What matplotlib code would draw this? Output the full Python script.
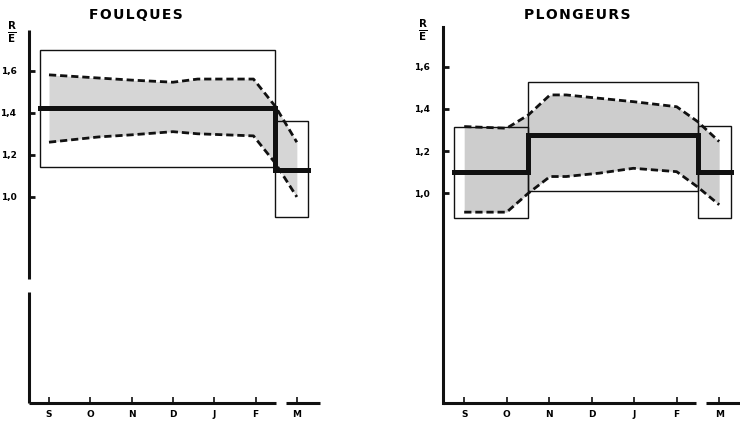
import numpy as np
import matplotlib
matplotlib.use("Agg")
import matplotlib.pyplot as plt
from matplotlib.patches import Rectangle

# 月份刻度
months = ["S", "O", "N", "D", "J", "F", "M"]
month_pos = [1, 2, 3, 4, 5, 6, 7]
yticks = [1.0, 1.2, 1.4, 1.6]
ytick_labels = ["1,0", "1,2", "1,4", "1,6"]

# FOULQUES
fq_x = [1.0, 2.2, 3.0, 4.0, 4.6, 5.95, 6.48, 7.0]
fq_upper = [1.58, 1.565, 1.555, 1.545, 1.56, 1.56, 1.43, 1.26]
fq_lower = [1.26, 1.285, 1.295, 1.31, 1.30, 1.29, 1.16, 1.0]
fq_mean_x = [0.77, 6.48, 6.48, 7.28]
fq_mean = [1.424, 1.424, 1.128, 1.128]
fq_box_x0 = [0.77, 6.48]
fq_box_x1 = [6.48, 7.28]
fq_box_y0 = [1.144, 0.906]
fq_box_y1 = [1.70, 1.362]

# PLONGEURS
pl_x = [1.0, 2.0, 2.51, 3.02, 3.4, 4.18, 4.98, 6.0, 6.49, 7.0]
pl_upper = [1.316, 1.308, 1.371, 1.466, 1.466, 1.45, 1.434, 1.41, 1.34, 1.245]
pl_lower = [0.91, 0.91, 1.0, 1.079, 1.079, 1.095, 1.118, 1.102, 1.03, 0.945]
pl_mean_x = [0.76, 2.51, 2.51, 6.49, 6.49, 7.28]
pl_mean = [1.10, 1.10, 1.276, 1.276, 1.10, 1.10]
pl_box_x0 = [0.76, 2.51, 6.49]
pl_box_x1 = [2.51, 6.49, 7.28]
pl_box_y0 = [0.88, 1.008, 0.88]
pl_box_y1 = [1.316, 1.529, 1.319]

plt.rcParams['font.family'] = ['DejaVu Sans']
INK = "#111111"
W, H = 740, 421


# 画一个面板
def draw_panel(ax, x, upper, lower, mean_x, mean, bx0, bx1, by0, by1,
               xlim, ylim, shade, break_x, ybreak=None):
    ax.set_xlim(*xlim)
    ax.set_ylim(*ylim)
    ax.fill_between(x, lower, upper, color=shade, lw=0, zorder=1)
    for i in range(len(bx0)):
        ax.add_patch(Rectangle((bx0[i], by0[i]), bx1[i] - bx0[i], by1[i] - by0[i],
                               fill=False, ec=INK, lw=1.0, zorder=2))
    ax.plot(x, upper, color=INK, lw=2.0, ls=(0, (2.6, 1.4)), zorder=3)
    ax.plot(x, lower, color=INK, lw=2.0, ls=(0, (2.6, 1.4)), zorder=3)
    ax.plot(mean_x, mean, color=INK, lw=3.6, solid_joinstyle="miter", zorder=4)

    # 坐标轴
    for s in ["top", "right", "bottom"]:
        ax.spines[s].set_visible(False)
    ax.spines["left"].set_linewidth(2.2)
    ax.spines["left"].set_color(INK)
    if ybreak is not None:
        # 纵轴中断
        ax.spines["left"].set_visible(False)
        ax.plot([xlim[0], xlim[0]], [ylim[0], ybreak - 0.03], color=INK, lw=2.2,
                clip_on=False, solid_capstyle="butt")
        ax.plot([xlim[0], xlim[0]], [ybreak + 0.03, ylim[1]], color=INK, lw=2.2,
                clip_on=False, solid_capstyle="butt")
    # 横轴中断（F 与 M 之间）
    ax.plot([xlim[0], break_x - 0.12], [ylim[0], ylim[0]], color=INK, lw=2.2,
            clip_on=False, solid_capstyle="butt")
    ax.plot([break_x + 0.12, xlim[1]], [ylim[0], ylim[0]], color=INK, lw=2.2,
            clip_on=False, solid_capstyle="butt")
    ax.set_xticks(month_pos)
    ax.set_xticklabels(months, fontsize=6.5, fontweight="bold")
    ax.set_yticks(yticks)
    ax.set_yticklabels(ytick_labels, fontsize=6.5, fontweight="bold")
    ax.tick_params(axis="x", direction="in", length=4, width=1.2, pad=5, color=INK)
    ax.tick_params(axis="y", direction="in", length=4, width=2.0, pad=9, color=INK)


# 标题和 R/E 标签（像素位置）
def add_labels(fig, title, tx, ty, rx, ry):
    fig.text(tx / W, 1 - ty / H, "\u200a".join(title), fontsize=10, fontweight="bold",
             ha="center", va="center")
    fig.text(rx / W, 1 - ry / H, r"$\frac{\mathbf{R}}{\mathbf{E}}$", fontsize=10.5,
             ha="center", va="center")


fig = plt.figure(figsize=(7.4, 4.21), dpi=100)
ax1 = fig.add_axes([0.0392, 0.0428, 0.3932, 0.8859])
ax2 = fig.add_axes([0.598, 0.0428, 0.402, 0.8930])

draw_panel(ax1, fq_x, fq_upper, fq_lower, fq_mean_x, fq_mean,
           fq_box_x0, fq_box_x1, fq_box_y0, fq_box_y1,
           (0.516, 7.56), (0.021, 1.793), "#d6d6d6", 6.62, ybreak=0.58)
draw_panel(ax2, pl_x, pl_upper, pl_lower, pl_mean_x, pl_mean,
           pl_box_x0, pl_box_x1, pl_box_y0, pl_box_y1,
           (0.49, 7.49), (0.005, 1.788), "#cdcdcd", 6.58)

add_labels(fig, "FOULQUES", 136, 15, 12, 32)
add_labels(fig, "PLONGEURS", 577, 15, 423, 30)

fig.savefig("out.png", dpi=100)
